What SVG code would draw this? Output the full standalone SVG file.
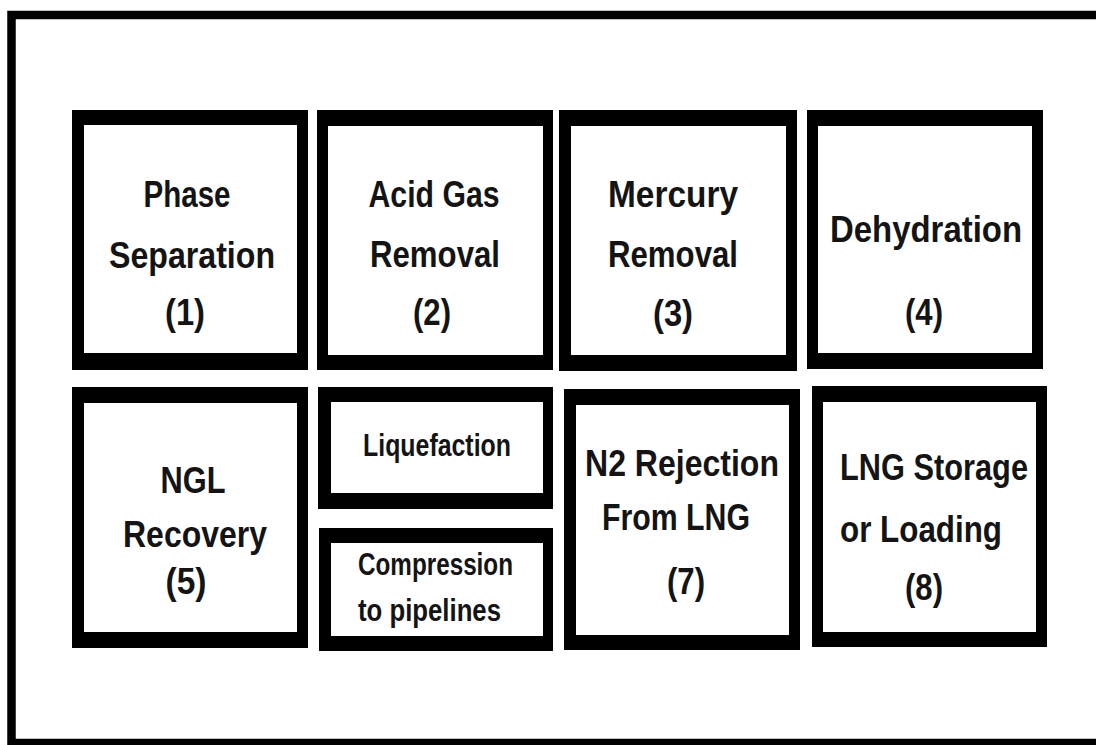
<svg xmlns="http://www.w3.org/2000/svg" width="1096" height="745" viewBox="0 0 1096 745">
<style>
.o{fill:#000}
.i{fill:#fff}
.t{font-family:"Liberation Sans",Arial,sans-serif;font-weight:bold;fill:#141414;text-anchor:middle}
.b{font-size:37px}
.s{font-size:31px}
.l{text-anchor:start}
</style>
<rect width="1096" height="745" fill="#fff"/>
<rect id="frame" x="11.5" y="15" width="1100" height="728" fill="none" stroke="#000" stroke-width="8.5"/>
<g id="connectors"></g>
<g id="n1">
<rect class="o" x="72" y="110" width="236" height="260"/>
<rect class="i" x="84" y="125" width="213" height="228"/>
<text class="t b" x="187" y="207" textLength="87" lengthAdjust="spacingAndGlyphs">Phase</text>
<text class="t b" x="192" y="268" textLength="166" lengthAdjust="spacingAndGlyphs">Separation</text>
<text class="t b" x="185" y="325" textLength="40" lengthAdjust="spacingAndGlyphs">(1)</text>
</g>
<g id="n2">
<rect class="o" x="317" y="110" width="236" height="260"/>
<rect class="i" x="328" y="126" width="215" height="229"/>
<text class="t b" x="434" y="207" textLength="131" lengthAdjust="spacingAndGlyphs">Acid Gas</text>
<text class="t b" x="435" y="267" textLength="130" lengthAdjust="spacingAndGlyphs">Removal</text>
<text class="t b" x="432" y="325" textLength="38" lengthAdjust="spacingAndGlyphs">(2)</text>
</g>
<g id="n3">
<rect class="o" x="559" y="110" width="238" height="261"/>
<rect class="i" x="571" y="126" width="215" height="229"/>
<text class="t b" x="673" y="207" textLength="130" lengthAdjust="spacingAndGlyphs">Mercury</text>
<text class="t b" x="673" y="267" textLength="130" lengthAdjust="spacingAndGlyphs">Removal</text>
<text class="t b" x="673" y="326" textLength="40" lengthAdjust="spacingAndGlyphs">(3)</text>
</g>
<g id="n4">
<rect class="o" x="807" y="110" width="236" height="259"/>
<rect class="i" x="818" y="126" width="214" height="227"/>
<text class="t b" x="926" y="242" textLength="192" lengthAdjust="spacingAndGlyphs">Dehydration</text>
<text class="t b" x="924" y="325" textLength="38" lengthAdjust="spacingAndGlyphs">(4)</text>
</g>
<g id="n5">
<rect class="o" x="72" y="387" width="236" height="261"/>
<rect class="i" x="84" y="403" width="213" height="229"/>
<text class="t b" x="193" y="493" textLength="65" lengthAdjust="spacingAndGlyphs">NGL</text>
<text class="t b" x="195" y="547" textLength="144" lengthAdjust="spacingAndGlyphs">Recovery</text>
<text class="t b" x="186" y="594" textLength="41" lengthAdjust="spacingAndGlyphs">(5)</text>
</g>
<g id="n6a">
<rect class="o" x="318" y="387" width="235" height="122"/>
<rect class="i" x="331" y="402" width="212" height="91"/>
<text class="t s" x="437" y="456" textLength="148" lengthAdjust="spacingAndGlyphs">Liquefaction</text>
</g>
<g id="n6b">
<rect class="o" x="319" y="528" width="234" height="123"/>
<rect class="i" x="331" y="543" width="212" height="93"/>
<text class="t s l" x="358" y="575" textLength="155" lengthAdjust="spacingAndGlyphs">Compression</text>
<text class="t s l" x="358" y="621" textLength="143" lengthAdjust="spacingAndGlyphs">to pipelines</text>
</g>
<g id="n7">
<rect class="o" x="564" y="389" width="236" height="261"/>
<rect class="i" x="576" y="405" width="213" height="230"/>
<text class="t b" x="682" y="476" textLength="194" lengthAdjust="spacingAndGlyphs">N2 Rejection</text>
<text class="t b" x="676" y="530" textLength="148" lengthAdjust="spacingAndGlyphs">From LNG</text>
<text class="t b" x="686" y="594" textLength="38" lengthAdjust="spacingAndGlyphs">(7)</text>
</g>
<g id="n8">
<rect class="o" x="812" y="386" width="235" height="261"/>
<rect class="i" x="823" y="402" width="213" height="230"/>
<text class="t b l" x="840" y="480" textLength="188" lengthAdjust="spacingAndGlyphs">LNG Storage</text>
<text class="t b l" x="840" y="542" textLength="162" lengthAdjust="spacingAndGlyphs">or Loading</text>
<text class="t b" x="924" y="600" textLength="38" lengthAdjust="spacingAndGlyphs">(8)</text>
</g>
</svg>
